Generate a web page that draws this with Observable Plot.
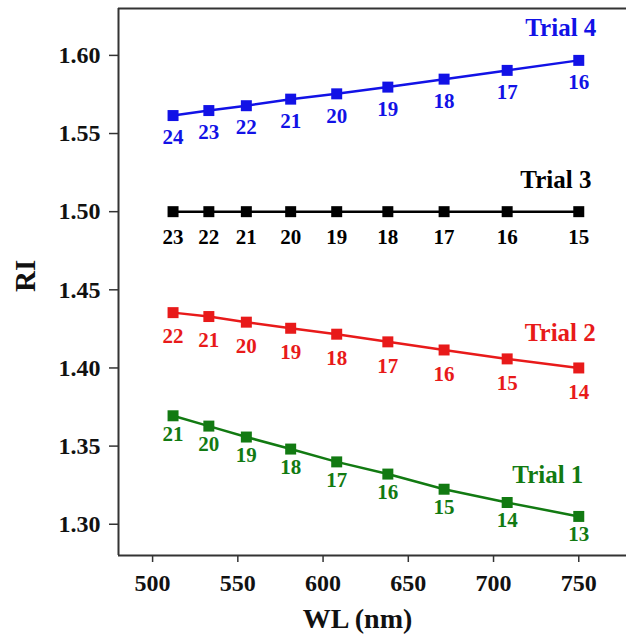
<!DOCTYPE html>
<html>
<head>
<meta charset="utf-8">
<script src="https://cdn.jsdelivr.net/npm/d3@7"></script>
<script src="https://cdn.jsdelivr.net/npm/@observablehq/plot@0.6"></script>
<style>
  html, body { margin: 0; padding: 0; background: #fff; }
  #chart svg { display: block; }
</style>
</head>
<body>
<div id="chart"></div>
<script>
// Wavelengths (nm), shared by all trials
const wavelengths = [512, 533, 555, 581, 608, 638, 671, 708, 750];

// Refractive index values per trial
const trial1RI = [1.3694, 1.3628, 1.3558, 1.3481, 1.3399, 1.3321, 1.3224, 1.3139, 1.3050];
const trial2RI = [1.4354, 1.4329, 1.4293, 1.4254, 1.4216, 1.4167, 1.4115, 1.4058, 1.4000];
const trial3RI = [1.5000, 1.5000, 1.5000, 1.5000, 1.5000, 1.5000, 1.5000, 1.5000, 1.5000];
const trial4RI = [1.5615, 1.5647, 1.5678, 1.5720, 1.5754, 1.5797, 1.5848, 1.5904, 1.5968];

// Point labels per trial
const trial1Labels = [21, 20, 19, 18, 17, 16, 15, 14, 13];
const trial2Labels = [22, 21, 20, 19, 18, 17, 16, 15, 14];
const trial3Labels = [23, 22, 21, 20, 19, 18, 17, 16, 15];
const trial4Labels = [24, 23, 22, 21, 20, 19, 18, 17, 16];

// Series names and their annotation anchors (data units)
const trialNames = ["Trial 1", "Trial 2", "Trial 3", "Trial 4"];
const trialNameX = [752.7, 760, 757.4, 760.3];
const trialNameY = [1.3314, 1.4224, 1.5205, 1.6173];

// Axis ticks
const xTicks = [500, 550, 600, 650, 700, 750];
const yTicks = [1.30, 1.35, 1.40, 1.45, 1.50, 1.55, 1.60];

const colors = ["#127a12", "#e81a1a", "#000000", "#1212e6"];
const labelDy = [18, 24, 26, 22];

const series = [trial1RI, trial2RI, trial3RI, trial4RI];
const seriesLabels = [trial1Labels, trial2Labels, trial3Labels, trial4Labels];

const serif = "'Liberation Serif', 'Times New Roman', serif";

const marks = [];
series.forEach((vals, k) => {
  const rows = wavelengths.map((w, i) => ({x: w, y: vals[i], label: String(seriesLabels[k][i])}));
  marks.push(Plot.line(rows, {x: "x", y: "y", stroke: colors[k], strokeWidth: 2.5}));
  marks.push(Plot.dot(rows, {x: "x", y: "y", symbol: "square", r: 6.2, fill: colors[k], stroke: "none"}));
  marks.push(Plot.text(rows, {
    x: "x", y: "y", text: "label", fill: colors[k], dy: labelDy[k],
    fontSize: 21, fontWeight: "bold", fontFamily: serif, lineAnchor: "middle"
  }));
});

const nameRows = trialNames.map((n, i) => ({name: n, x: trialNameX[i], y: trialNameY[i], c: colors[i]}));
marks.push(Plot.text(nameRows, {
  x: "x", y: "y", text: "name", fill: d => d.c, textAnchor: "end", lineAnchor: "middle",
  fontSize: 25, fontWeight: "bold", fontFamily: serif
}));

const chart = Plot.plot({
  width: 626,
  height: 635,
  marginLeft: 118,
  marginTop: 8,
  marginBottom: 80,
  marginRight: 0,
  style: {fontFamily: serif, background: "#fff", color: "#111"},
  x: {domain: [480, 778]},
  y: {domain: [1.28, 1.63]},
  marks: [
    Plot.ruleX([480], {stroke: "#333", strokeWidth: 2}),
    Plot.ruleY([1.28], {stroke: "#333", strokeWidth: 2}),
    Plot.ruleY([1.63], {stroke: "#333", strokeWidth: 2}),
    Plot.axisX({ticks: xTicks, tickSize: 7, tickPadding: 11, tickFormat: d3.format("d"),
      fontSize: 24, fontWeight: "bold", label: null, stroke: "#333", strokeWidth: 1.5}),
    Plot.axisY({ticks: yTicks, tickSize: 9, tickPadding: 9, tickFormat: d3.format(".2f"),
      fontSize: 24, fontWeight: "bold", label: null, stroke: "#333", strokeWidth: 1.5}),
    Plot.text(["RI"], {frameAnchor: "left", rotate: -90, dx: -93, dy: 10, text: d => d,
      fontSize: 29, fontWeight: "bold", fontFamily: serif, lineAnchor: "middle", fill: "#111"}),
    Plot.text(["WL (nm)"], {frameAnchor: "bottom", dx: -15, dy: 64, text: d => d,
      fontSize: 28, fontWeight: "bold", fontFamily: serif, lineAnchor: "middle", fill: "#111"}),
    ...marks
  ]
});

document.getElementById("chart").appendChild(chart);
</script>
</body>
</html>
